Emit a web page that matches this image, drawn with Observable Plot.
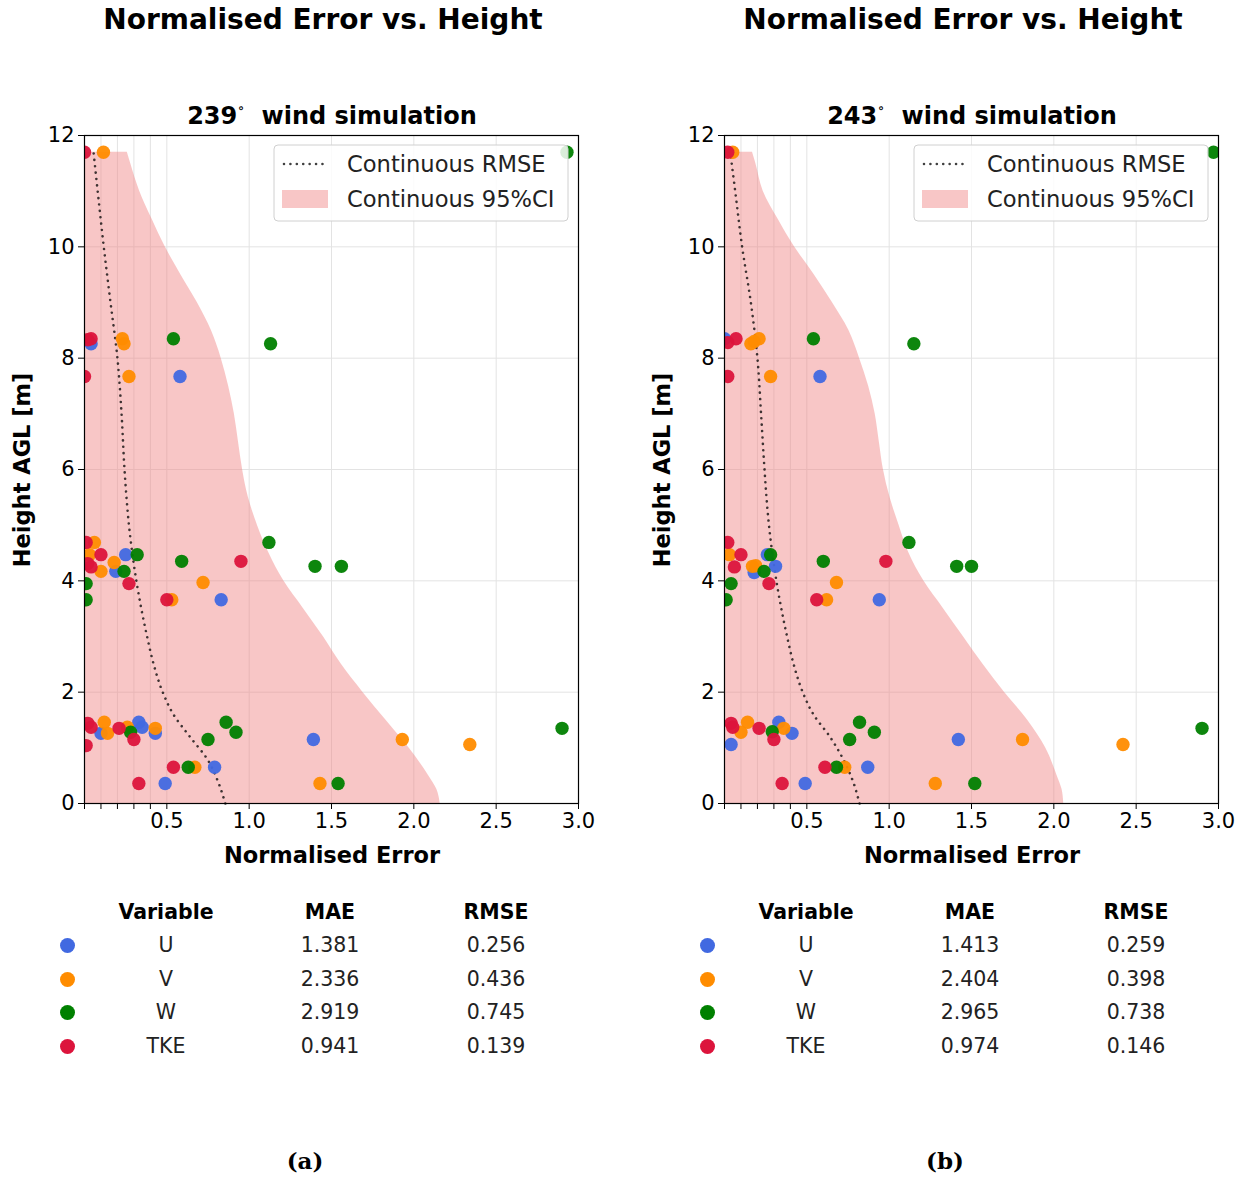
<!DOCTYPE html>
<html><head><meta charset="utf-8">
<script src="https://cdn.jsdelivr.net/npm/d3@7"></script>
<script src="https://cdn.jsdelivr.net/npm/@observablehq/plot@0.6"></script>
<style>
body{margin:0;background:#fff;width:1246px;height:1177px;overflow:hidden;position:relative;font-family:"DejaVu Sans",sans-serif;color:#000;}
.t{position:absolute;white-space:nowrap;transform:translate(-50%,-50%);line-height:1;}
.b{font-weight:bold;}
</style></head><body>
<script>
// ---------- data ----------
const variables = ["U","V","W","TKE"];
const colors = ["#4169E1","#FF8C00","#008000","#DC143C"];
const xTicks = [0,0.1,0.2,0.3,0.4,0.5,1,1.5,2,2.5,3];
const yTicks = [0,2,4,6,8,10,12];
const subtitles = ["239", "243"];
const captions = ["(a)", "(b)"];

// Panel (a) points [x, height]
const a_U = [[0.04,8.26],[0.58,7.67],[0.25,4.47],[0.19,4.17],[0.83,3.66],[0.10,1.26],[0.33,1.46],[0.35,1.37],[0.43,1.26],[1.39,1.15],[0.79,0.65],[0.49,0.36]];
const a_V = [[0.115,11.7],[0.23,8.35],[0.24,8.26],[0.27,7.67],[0.06,4.69],[0.03,4.47],[0.18,4.33],[0.10,4.17],[0.72,3.97],[0.53,3.66],[0.12,1.46],[0.14,1.26],[0.26,1.37],[0.43,1.35],[1.93,1.15],[2.34,1.06],[0.67,0.65],[1.43,0.36]];
const a_W = [[2.93,11.7],[0.54,8.35],[1.13,8.26],[1.12,4.69],[0.32,4.47],[0.59,4.35],[1.40,4.26],[1.56,4.26],[0.24,4.17],[0.01,3.95],[0.01,3.66],[0.86,1.46],[0.92,1.28],[0.75,1.15],[0.28,1.28],[2.90,1.35],[0.63,0.65],[1.54,0.36]];
const a_TKE = [[0.0,11.7],[0.02,8.33],[0.04,8.35],[0.0,7.67],[0.01,4.69],[0.10,4.47],[0.02,4.31],[0.04,4.25],[0.95,4.35],[0.27,3.95],[0.50,3.66],[0.02,1.44],[0.04,1.37],[0.21,1.35],[0.30,1.15],[0.01,1.04],[0.54,0.65],[0.33,0.36]];

// Panel (b) points [x, height]
const b_U = [[0.0,8.35],[0.58,7.67],[0.26,4.47],[0.31,4.26],[0.18,4.15],[0.94,3.66],[0.33,1.46],[0.41,1.26],[0.04,1.06],[1.42,1.15],[0.87,0.65],[0.49,0.36]];
const b_V = [[0.05,11.7],[0.18,8.30],[0.21,8.35],[0.16,8.26],[0.28,7.67],[0.03,4.47],[0.17,4.26],[0.19,4.27],[0.68,3.97],[0.62,3.66],[0.14,1.46],[0.10,1.28],[0.36,1.35],[1.81,1.15],[2.42,1.06],[0.73,0.65],[1.28,0.36]];
const b_W = [[2.97,11.7],[0.54,8.35],[1.15,8.26],[1.12,4.69],[0.28,4.47],[0.60,4.35],[1.41,4.26],[1.50,4.26],[0.24,4.17],[0.04,3.95],[0.01,3.66],[0.82,1.46],[0.91,1.28],[0.76,1.15],[0.29,1.29],[2.90,1.35],[0.68,0.65],[1.52,0.36]];
const b_TKE = [[0.02,11.7],[0.07,8.35],[0.02,8.28],[0.02,7.67],[0.02,4.69],[0.10,4.47],[0.06,4.25],[0.98,4.35],[0.27,3.95],[0.56,3.66],[0.04,1.44],[0.05,1.37],[0.21,1.35],[0.30,1.15],[0.61,0.65],[0.35,0.36]];

// Continuous RMSE curves
const rmseHeights = [0,0.4,0.8,1.2,1.6,2,2.5,3,3.5,4,4.5,5,5.5,6,7,8,9,10,11,11.7];
const rmseA = [0.855,0.81,0.745,0.64,0.54,0.475,0.42,0.38,0.345,0.315,0.29,0.27,0.255,0.243,0.225,0.20,0.158,0.117,0.08,0.055];
const rmseB = [0.82,0.78,0.72,0.64,0.54,0.475,0.42,0.38,0.345,0.315,0.29,0.27,0.255,0.243,0.222,0.20,0.16,0.107,0.065,0.035];

// Continuous 95% CI upper bound
const ciHeights = [0,0.25,0.5,1,1.5,2,2.5,3,3.5,4,4.5,5,5.5,6,6.5,7,7.5,8,8.5,9,9.5,10,10.5,11,11.5,11.7];
const ciUpperA = [2.16,2.14,2.09,1.97,1.83,1.69,1.56,1.45,1.33,1.21,1.12,1.05,0.995,0.96,0.935,0.91,0.875,0.83,0.77,0.685,0.585,0.49,0.41,0.335,0.28,0.26];
const ciUpperB = [2.06,2.05,2.02,1.95,1.84,1.70,1.57,1.45,1.33,1.21,1.12,1.06,1.005,0.965,0.94,0.915,0.875,0.82,0.755,0.655,0.545,0.425,0.325,0.235,0.19,0.17];

// Table values
const maeA = [1.381, 2.336, 2.919, 0.941];
const rmseTabA = [0.256, 0.436, 0.745, 0.139];
const maeB = [1.413, 2.404, 2.965, 0.974];
const rmseTabB = [0.259, 0.398, 0.738, 0.146];

// ---------- drawing ----------
function txt(s, x, y, size, cls, extra) {
  const d = document.createElement("div");
  d.className = "t " + (cls||"");
  d.style.left = x + "px"; d.style.top = y + "px"; d.style.fontSize = size + "px";
  if (extra) Object.assign(d.style, extra);
  d.innerHTML = s;
  document.body.appendChild(d);
  return d;
}

function makePanel(ox, sets, rmse, ciUp, mae, rmseTab, sub, cap) {
  const pts = [];
  variables.forEach((v, i) => sets[i].forEach(([x, y]) => pts.push({x, y, v})));
  const curve = rmseHeights.map((h, i) => ({h, v: rmse[i]}));
  const band = ciHeights.map((h, i) => ({h, u: ciUp[i]}));

  const svg = Plot.plot({
    width: 606, height: 780,
    marginLeft: 84, marginRight: 28, marginTop: 35, marginBottom: 77,
    x: {domain: [0, 3], ticks: xTicks, tickFormat: d => d >= 0.5 ? d.toFixed(1) : "", label: null, tickSize: 6, tickPadding: 4},
    y: {domain: [0, 12], ticks: yTicks, tickFormat: d => String(d), label: null, tickSize: 6, tickPadding: 4},
    color: {domain: variables, range: colors},
    style: {fontFamily: "DejaVu Sans", fontSize: "21px", color: "#000", background: "transparent"},
    marks: [
      Plot.gridX(xTicks, {stroke: "#e3e3e3", strokeOpacity: 1, strokeWidth: 1}),
      Plot.gridY(yTicks, {stroke: "#e3e3e3", strokeOpacity: 1, strokeWidth: 1}),
      Plot.areaX(band, {y: "h", x1: 0, x2: "u", fill: "#F08080", fillOpacity: 0.45, curve: "monotone-y"}),
      Plot.lineX(curve, {x: "v", y: "h", stroke: "#000", strokeOpacity: 0.75, strokeWidth: 2.6, strokeDasharray: "0.01,6.4", strokeLinecap: "round", curve: "monotone-y"}),
      Plot.dot(pts, {x: "x", y: "y", fill: "v", r: 6.7, fillOpacity: 0.95, clip: true}),
      Plot.frame({stroke: "#000", strokeWidth: 1.2})
    ]
  });
  svg.style.position = "absolute";
  svg.style.left = ox + "px";
  svg.style.top = "100px";
  document.body.appendChild(svg);

  // titles & labels
  txt("Normalised Error vs. Height", ox + 323, 20, 28, "b");
  txt(sub + '<sup style="font-size:12px;position:relative;top:-3px">∘</sup>&nbsp; wind simulation', ox + 332, 116, 24, "b");
  txt("Normalised Error", ox + 332, 855, 22.5, "b");
  txt("Height AGL [m]", ox + 22, 470, 22.5, "b", {transform: "translate(-50%,-50%) rotate(-90deg)"});

  // legend
  const ns = "http://www.w3.org/2000/svg";
  const lg = document.createElementNS(ns, "svg");
  lg.setAttribute("width", 300); lg.setAttribute("height", 82);
  lg.style.position = "absolute"; lg.style.left = (ox + 272) + "px"; lg.style.top = "143px";
  lg.innerHTML = `
    <rect x="2" y="2" width="294" height="76" rx="4" fill="#fff" fill-opacity="0.85" stroke="#d0d0d0"/>
    <line x1="12" x2="55" y1="21" y2="21" stroke="#000" stroke-opacity="0.75" stroke-width="2.6" stroke-linecap="round" stroke-dasharray="0.01,6.4"/>
    <rect x="10" y="47" width="46" height="18" fill="#F08080" fill-opacity="0.45"/>
    <text x="75" y="29" font-family="DejaVu Sans" font-size="22.6" fill="#222">Continuous RMSE</text>
    <text x="75" y="64" font-family="DejaVu Sans" font-size="22.6" fill="#222">Continuous 95%CI</text>`;
  document.body.appendChild(lg);

  // table
  const rowY = [945, 979, 1012, 1046];
  txt("Variable", ox + 166, 912, 20.5, "b");
  txt("MAE", ox + 330, 912, 20.5, "b");
  txt("RMSE", ox + 496, 912, 20.5, "b");
  variables.forEach((v, i) => {
    const dot = document.createElement("div");
    Object.assign(dot.style, {position: "absolute", left: (ox + 60) + "px", top: (rowY[i] - 7) + "px", width: "15px", height: "15px", borderRadius: "50%", background: colors[i]});
    document.body.appendChild(dot);
    txt(v, ox + 166, rowY[i], 20.5, "", {color: "#222"});
    txt(mae[i].toFixed(3), ox + 330, rowY[i], 20.5, "", {color: "#222"});
    txt(rmseTab[i].toFixed(3), ox + 496, rowY[i], 20.5, "", {color: "#222"});
  });

  txt(cap, ox + 305, 1160, 23, "b", {fontFamily: '"DejaVu Serif", serif'});
}

makePanel(0, [a_U, a_V, a_W, a_TKE], rmseA, ciUpperA, maeA, rmseTabA, subtitles[0], captions[0]);
makePanel(640, [b_U, b_V, b_W, b_TKE], rmseB, ciUpperB, maeB, rmseTabB, subtitles[1], captions[1]);
</script>
</body></html>
